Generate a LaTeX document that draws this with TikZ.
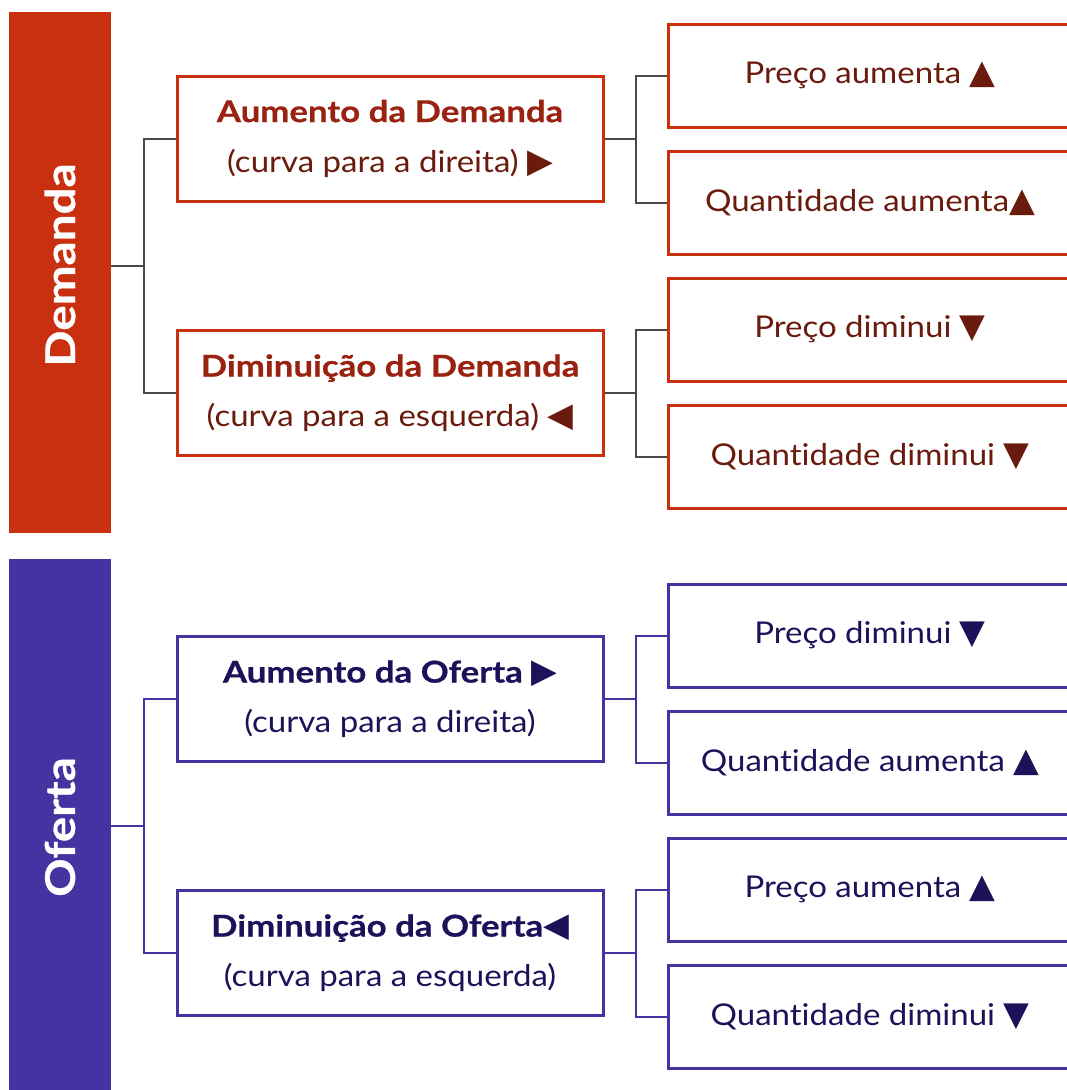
\documentclass[tikz,border=0pt]{standalone}
\usepackage{fontspec}
\setmainfont{Lato}[Ligatures=CommonOff,FakeStretch=1.1,BoldFeatures={FakeStretch=1.16,FakeBold=0.6}]
\newfontfamily\symfont{DejaVu Sans}[Scale=1.12]
\usetikzlibrary{positioning}

\definecolor{demred}{HTML}{C8300F}
\definecolor{demtitle}{HTML}{9A2210}
\definecolor{demtext}{HTML}{6B1A0E}
\definecolor{ofpurple}{HTML}{4433A0}
\definecolor{oftext}{HTML}{1B1259}
\definecolor{linegray}{HTML}{4A4A4A}

\newcommand{\triup}{{\symfont ▲}}
\newcommand{\tridown}{{\symfont ▼}}
\newcommand{\triright}{{\symfont ▶}}
\newcommand{\trileft}{{\symfont ◀}}

\begin{document}
\begin{tikzpicture}[x=1pt,y=-1pt,
    bar node/.style={rectangle,minimum width=102,minimum height=521,inner sep=0},
    bar text/.style={rotate=90,text=white,font=\fontsize{41}{48}\selectfont\bfseries},
    mid node/.style={rectangle,draw,line width=3pt,minimum width=426,minimum height=125,
                     align=center,font=\fontsize{30}{50}\selectfont},
    leaf node/.style={rectangle,draw,line width=3pt,minimum width=404,minimum height=103,
                      font=\fontsize{30}{36}\selectfont},
    link/.style={line width=2pt}]

  \clip (0,0) rectangle (1067,1090);

  % demanda
  \node[bar node,fill=demred] (dem) at (60,272.5) {};
  \node[bar text] (demlabel) at (60,265) {Demanda};

  \node[mid node,draw=demred,text=demtext] (demup) at (390,138.5)
    {{\bfseries\color{demtitle}Aumento da Demanda}\\(curva para a direita) \triright};
  \node[mid node,draw=demred,text=demtext] (demdown) at (390,393)
    {{\bfseries\color{demtitle}Diminuição da Demanda}\\(curva para a esquerda) \trileft};

  \node[leaf node,draw=demred,text=demtext] (d1) at (870,75.5) {Preço aumenta \triup};
  \node[leaf node,draw=demred,text=demtext] (d2) at (870,202.5) {Quantidade aumenta\triup};
  \node[leaf node,draw=demred,text=demtext] (d3) at (870,329.5) {Preço diminui \tridown};
  \node[leaf node,draw=demred,text=demtext] (d4) at (870,456.5) {Quantidade diminui \tridown};

  \coordinate (demjoin) at (144,266);
  \coordinate (demupjoin) at (636,138.5);
  \coordinate (demdownjoin) at (636,393);

  \draw[link,linegray] (demjoin -| dem.east) -- (demjoin);
  \draw[link,linegray] (demup.west) -| (demjoin) |- (demdown.west);
  \draw[link,linegray] (demup.east) -- (demupjoin);
  \draw[link,linegray] (d1.west) -| (demupjoin) |- (d2.west);
  \draw[link,linegray] (demdown.east) -- (demdownjoin);
  \draw[link,linegray] (d3.west) -| (demdownjoin) |- (d4.west);

  % oferta
  \node[bar node,fill=ofpurple,minimum height=531] (of) at (60,824.5) {};
  \node[bar text] (oflabel) at (60,827) {Oferta};

  \node[mid node,draw=ofpurple,text=oftext] (ofup) at (390,699)
    {{\bfseries Aumento da Oferta \triright}\\(curva para a direita)};
  \node[mid node,draw=ofpurple,text=oftext] (ofdown) at (390,953)
    {{\bfseries Diminuição da Oferta\trileft}\\(curva para a esquerda)};

  \node[leaf node,draw=ofpurple,text=oftext] (o1) at (870,635.5) {Preço diminui \tridown};
  \node[leaf node,draw=ofpurple,text=oftext] (o2) at (870,762.5) {Quantidade aumenta \triup};
  \node[leaf node,draw=ofpurple,text=oftext] (o3) at (870,889.5) {Preço aumenta \triup};
  \node[leaf node,draw=ofpurple,text=oftext] (o4) at (870,1016.5) {Quantidade diminui \tridown};

  \coordinate (ofjoin) at (144,826);
  \coordinate (ofupjoin) at (636,699);
  \coordinate (ofdownjoin) at (636,953);

  \draw[link,ofpurple] (ofjoin -| of.east) -- (ofjoin);
  \draw[link,ofpurple] (ofup.west) -| (ofjoin) |- (ofdown.west);
  \draw[link,ofpurple] (ofup.east) -- (ofupjoin);
  \draw[link,ofpurple] (o1.west) -| (ofupjoin) |- (o2.west);
  \draw[link,ofpurple] (ofdown.east) -- (ofdownjoin);
  \draw[link,ofpurple] (o3.west) -| (ofdownjoin) |- (o4.west);
\end{tikzpicture}
\end{document}
